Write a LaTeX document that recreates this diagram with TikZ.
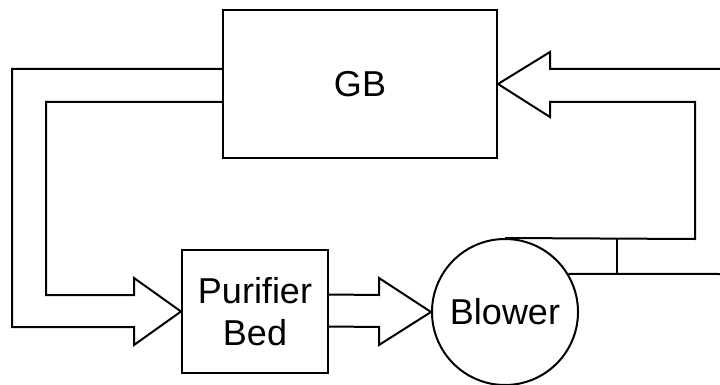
\documentclass[tikz,border=0pt]{standalone}
\usepackage{fontspec}
\setmainfont{Liberation Sans}
\usetikzlibrary{calc}
\tikzset{
  unit/.style={draw, line width=2pt, inner sep=0pt, font=\fontsize{36}{42}\selectfont, align=center},
  pipe/.style={line width=2pt, line join=miter}
}
\begin{document}
\begin{tikzpicture}[x=1pt, y=-1pt]
	\useasboundingbox (0,0) rectangle (720,385);
	\node[unit, minimum width=274pt, minimum height=148pt] (gb) at (360,84) {GB};
	\node[unit, minimum width=146pt, minimum height=123pt] (bed) at (255,311.5) {Purifier\\Bed};
	\node[unit, circle, minimum size=146pt] (blower) at (505,312) {Blower};
	% return from GB to the bed
	\draw[pipe] ($(gb.west)+(0,-15)$) -- (12,69) -- (12,327) -- (134,327) -- (134,345) -- (bed.west) -- (134,278) -- (134,295) -- (46,295) -- (46,102) -- ($(gb.west)+(0,18)$);
	% bed to blower
	\draw[pipe] ($(bed.east)+(0,-17)$) -- (379,295) -- (379,278) -- (blower.west) -- (379,345) -- (379,327) -- ($(bed.east)+(0,15)$);
	% blower back to GB
	\draw[pipe] (blower.north) -- (695,239) -- (695,102) -- (550,102) -- (550,117) -- (gb.east) -- (550,52) -- (550,69) -- (720,69);
	\draw[pipe] (blower.31) -- (720,274);
	\draw[pipe] (617,239) -- (617,274);
\end{tikzpicture}
\end{document}
